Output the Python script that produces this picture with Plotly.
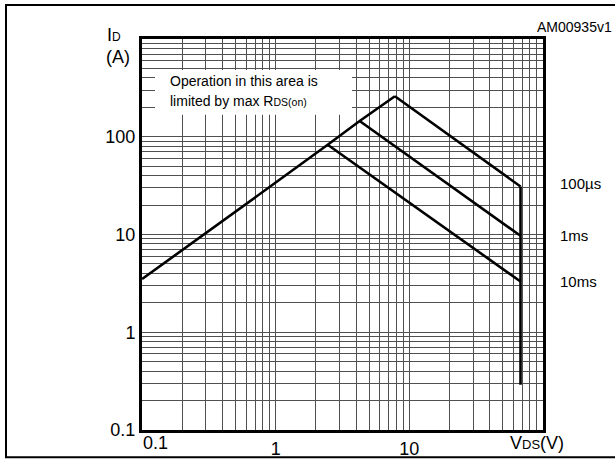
import plotly.graph_objects as go

# ---- data (V in volts, I in amperes) ----
x_rds = [0.1, 0.2, 0.5, 1.0, 2.45, 4.25, 7.8]
y_rds = [3.5, 6.9, 17, 34, 83, 145, 260]

x_100us = [7.8, 68]
y_100us = [260, 31]
x_1ms = [4.25, 68]
y_1ms = [145, 9.7]
x_10ms = [2.45, 68]
y_10ms = [83, 3.3]
x_vlim = [68, 68]
y_vlim = [31, 0.29]

curve_labels = ["100µs", "1ms", "10ms"]

x_decades = [-1, 0, 1]
y_decades = [-1, 0, 1, 2]
x_tick_text = {1: "1", 10: "10"}
y_tick_text = {0.1: "0.1", 1: "1", 10: "10", 100: "100"}

# grid positions (1..9 in every decade)
x_grid = [round(m * 10 ** e, 6) for e in x_decades for m in range(1, 10)] + [100]
y_grid = [round(m * 10 ** e, 6) for e in y_decades for m in range(1, 10)] + [1000]

FONT = "Liberation Sans, Arial, Helvetica, sans-serif"

fig = go.Figure()
line_style = dict(color="black", width=2.6)
for xs, ys in [(x_rds, y_rds), (x_100us, y_100us), (x_1ms, y_1ms),
               (x_10ms, y_10ms), (x_vlim, y_vlim)]:
    fig.add_trace(go.Scatter(x=xs, y=ys, mode="lines", line=line_style,
                             hoverinfo="skip"))

W, H = 615, 471
L, R, T, B = 142, 72, 39, 30
pw, ph = W - L - R, H - T - B


def px(xp):
    return (xp - L) / pw


def py(yp):
    return (H - B - yp) / ph


fig.update_layout(
    width=W, height=H,
    margin=dict(l=L, r=R, t=T, b=B, pad=0),
    plot_bgcolor="white", paper_bgcolor="white",
    showlegend=False,
    font=dict(family=FONT, color="black"),
    xaxis=dict(
        type="log", range=[-1.0008, 2.0008],
        tickvals=x_grid,
        ticktext=[x_tick_text.get(v, "") for v in x_grid],
        showgrid=True, gridcolor="#505050", gridwidth=1,
        showline=True, linecolor="black", linewidth=3, mirror=True,
        ticks="", zeroline=False, tickfont=dict(size=18, family=FONT),
    ),
    yaxis=dict(
        type="log", range=[-1.0008, 3.0008],
        tickvals=y_grid,
        ticktext=[y_tick_text.get(v, "") for v in y_grid],
        showgrid=True, gridcolor="#505050", gridwidth=1,
        showline=True, linecolor="black", linewidth=3, mirror=True,
        ticks="", zeroline=False, tickfont=dict(size=18, family=FONT),
    ),
)

# outer frame
fig.add_shape(type="rect", xref="paper", yref="paper",
              x0=px(6), x1=px(640), y0=py(469), y1=py(4),
              line=dict(color="black", width=2), fillcolor="rgba(0,0,0,0)")
# white note box covering the grid
fig.add_shape(type="rect", xref="paper", yref="paper",
              x0=px(155), x1=px(352), y0=py(117), y1=py(71),
              line=dict(width=0), fillcolor="white", layer="above")

ann = []
ann.append(dict(text="Operation in this area is", x=px(168), y=py(82),
                xanchor="left", yanchor="middle", font=dict(size=14)))
ann.append(dict(text="limited by max R<span style='font-size:10.5px'>DS(on)</span>",
                x=px(168), y=py(103), xanchor="left", yanchor="middle",
                font=dict(size=14)))
ann.append(dict(text="I<span style='font-size:12px'>D</span>", x=px(105), y=py(35),
                xanchor="left", yanchor="middle", font=dict(size=18)))
ann.append(dict(text="(A)", x=px(104), y=py(57), xanchor="left",
                yanchor="middle", font=dict(size=18)))
ann.append(dict(text="AM00935v1", x=px(614), y=py(27), xanchor="right",
                yanchor="middle", font=dict(size=14)))
for lbl, ypix in zip(curve_labels, [188, 241, 288]):
    ann.append(dict(text=lbl, x=px(558), y=py(ypix), xanchor="left",
                    yanchor="middle", font=dict(size=15)))
ann.append(dict(text="V<span style='font-size:13px'>DS</span>(V)", x=px(537),
                y=py(454), xanchor="center", yanchor="middle",
                font=dict(size=18)))
ann.append(dict(text="0.1", x=px(141), y=py(454), xanchor="left",
                yanchor="middle", font=dict(size=18)))
for a in ann:
    a.update(xref="paper", yref="paper", showarrow=False)
    fig.add_annotation(**a)

fig.write_html(
    "out.html",
    config={"displayModeBar": False},
    post_script="document.body.style.margin='0';"
                "document.body.style.overflow='hidden';",
)
